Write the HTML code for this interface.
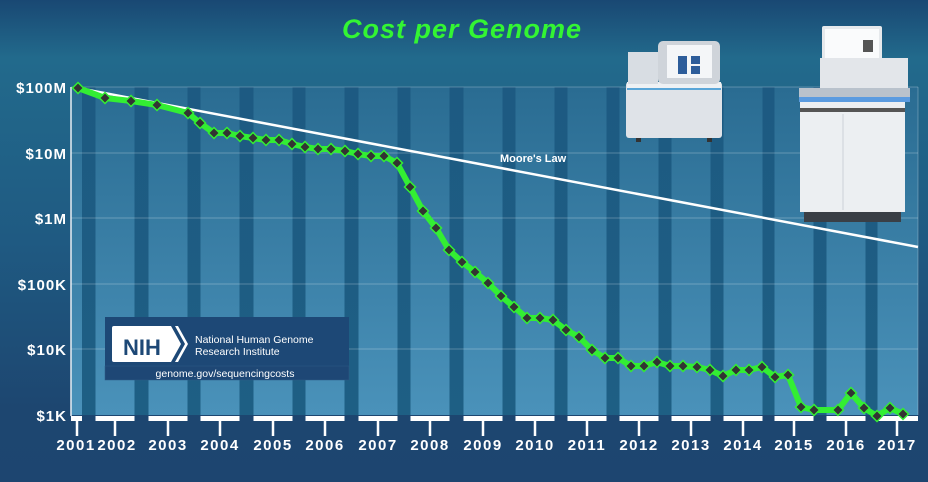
<!DOCTYPE html>
<html><head><meta charset="utf-8"><style>
html,body{margin:0;padding:0;width:928px;height:482px;overflow:hidden;background:#1d4570}
svg{display:block}
text{font-family:"Liberation Sans",sans-serif;font-weight:bold;fill:#fff}
</style></head><body>
<svg width="928" height="482" viewBox="0 0 928 482" xmlns="http://www.w3.org/2000/svg">
<defs>
<linearGradient id="bg" x1="0" y1="0" x2="0" y2="1">
<stop offset="0" stop-color="#194873"/><stop offset="0.12" stop-color="#226a8c"/><stop offset="0.5" stop-color="#1f5a82"/><stop offset="0.85" stop-color="#1d4670"/><stop offset="1" stop-color="#1d4570"/>
</linearGradient>
<linearGradient id="lt" x1="0" y1="0" x2="0" y2="1">
<stop offset="0" stop-color="#2a6c92"/><stop offset="1" stop-color="#4a92ba"/>
</linearGradient>
<linearGradient id="dk" x1="0" y1="0" x2="0" y2="1">
<stop offset="0" stop-color="#1d5a82"/><stop offset="1" stop-color="#1e5f84"/>
</linearGradient>
</defs>
<rect width="928" height="482" fill="url(#bg)"/>
<rect x="71" y="87" width="847" height="328" fill="url(#dk)"/>
<g fill="url(#lt)">
<rect x="71" y="87" width="11" height="328"/>
<rect x="95.5" y="87" width="39" height="328"/><rect x="148.5" y="87" width="39" height="328"/><rect x="200.5" y="87" width="39" height="328"/><rect x="253.5" y="87" width="39" height="328"/><rect x="305.5" y="87" width="39" height="328"/><rect x="358.5" y="87" width="39" height="328"/><rect x="410.5" y="87" width="39" height="328"/><rect x="463.5" y="87" width="39" height="328"/><rect x="515.5" y="87" width="39" height="328"/><rect x="567.5" y="87" width="39" height="328"/><rect x="619.5" y="87" width="39" height="328"/><rect x="671.5" y="87" width="39" height="328"/><rect x="723.5" y="87" width="39" height="328"/><rect x="774.5" y="87" width="39" height="328"/><rect x="826.5" y="87" width="39" height="328"/><rect x="877.5" y="87" width="40.5" height="328"/>
</g>
<g stroke="#ffffff" stroke-opacity="0.25" stroke-width="1">
<line x1="71" y1="87" x2="918" y2="87"/><line x1="71" y1="153" x2="918" y2="153"/><line x1="71" y1="218" x2="918" y2="218"/><line x1="71" y1="284" x2="918" y2="284"/><line x1="71" y1="349" x2="918" y2="349"/>
<line x1="918" y1="87" x2="918" y2="415"/>
</g>
<line x1="71" y1="87" x2="71" y2="416" stroke="#e8eef4" stroke-width="1.5"/>
<g fill="#fff">
<rect x="71" y="416" width="11" height="5"/>
<rect x="95.5" y="416" width="39" height="5"/><rect x="148.5" y="416" width="39" height="5"/><rect x="200.5" y="416" width="39" height="5"/><rect x="253.5" y="416" width="39" height="5"/><rect x="305.5" y="416" width="39" height="5"/><rect x="358.5" y="416" width="39" height="5"/><rect x="410.5" y="416" width="39" height="5"/><rect x="463.5" y="416" width="39" height="5"/><rect x="515.5" y="416" width="39" height="5"/><rect x="567.5" y="416" width="39" height="5"/><rect x="619.5" y="416" width="39" height="5"/><rect x="671.5" y="416" width="39" height="5"/><rect x="723.5" y="416" width="39" height="5"/><rect x="774.5" y="416" width="39" height="5"/><rect x="826.5" y="416" width="39" height="5"/><rect x="877.5" y="416" width="40.5" height="5"/>
</g>
<g stroke="#fff" stroke-width="2.5">
<line x1="77" y1="418" x2="77" y2="436"/><line x1="115" y1="418" x2="115" y2="436"/><line x1="168" y1="418" x2="168" y2="436"/><line x1="220" y1="418" x2="220" y2="436"/><line x1="273" y1="418" x2="273" y2="436"/><line x1="325" y1="418" x2="325" y2="436"/><line x1="378" y1="418" x2="378" y2="436"/><line x1="430" y1="418" x2="430" y2="436"/><line x1="483" y1="418" x2="483" y2="436"/><line x1="535" y1="418" x2="535" y2="436"/><line x1="587" y1="418" x2="587" y2="436"/><line x1="639" y1="418" x2="639" y2="436"/><line x1="691" y1="418" x2="691" y2="436"/><line x1="743" y1="418" x2="743" y2="436"/><line x1="794" y1="418" x2="794" y2="436"/><line x1="846" y1="418" x2="846" y2="436"/><line x1="897" y1="418" x2="897" y2="436"/>
</g>
<g font-size="15" text-anchor="middle" letter-spacing="1.5">
<text x="76" y="450">2001</text><text x="117" y="450">2002</text><text x="168" y="450">2003</text><text x="220" y="450">2004</text><text x="273" y="450">2005</text><text x="325" y="450">2006</text><text x="378" y="450">2007</text><text x="430" y="450">2008</text><text x="483" y="450">2009</text><text x="535" y="450">2010</text><text x="587" y="450">2011</text><text x="639" y="450">2012</text><text x="691" y="450">2013</text><text x="743" y="450">2014</text><text x="794" y="450">2015</text><text x="846" y="450">2016</text><text x="897" y="450">2017</text>
</g>
<g font-size="15" text-anchor="end" letter-spacing="1">
<text x="67" y="93">$100M</text><text x="67" y="159">$10M</text><text x="67" y="224">$1M</text><text x="67" y="290">$100K</text><text x="67" y="355">$10K</text><text x="67" y="421">$1K</text>
</g>
<text x="462" y="38" font-size="27" font-style="italic" text-anchor="middle" letter-spacing="1" style="fill:#33f533">Cost per Genome</text>
<g>
<rect x="626" y="82" width="96" height="56" rx="3" fill="#dfe3e8"/>
<rect x="627" y="82" width="94" height="8" fill="#eef1f4"/>
<rect x="627" y="88" width="94" height="2" fill="#5aa6d8"/>
<rect x="628" y="52" width="30" height="32" fill="#d8dde3"/>
<rect x="658" y="41" width="62" height="43" rx="5" fill="#cfd4da"/>
<rect x="667" y="45" width="45" height="33" fill="#f4f6f8"/>
<rect x="678" y="56" width="9" height="18" fill="#2d5d9a"/><rect x="691" y="56" width="9" height="8" fill="#2d5d9a"/><rect x="691" y="66" width="9" height="8" fill="#2d5d9a"/>
<rect x="636" y="138" width="5" height="4" fill="#333"/><rect x="707" y="138" width="5" height="4" fill="#333"/>
</g>
<g>
<rect x="822" y="26" width="60" height="42" rx="2" fill="#e6e9ec"/>
<rect x="825" y="29" width="54" height="34" fill="#fafbfc"/>
<rect x="863" y="40" width="10" height="12" fill="#555"/>
<rect x="820" y="58" width="88" height="32" fill="#e3e6ea"/>
<rect x="799" y="88" width="111" height="12" fill="#b9c2cc"/>
<rect x="799" y="97" width="111" height="5" fill="#5a9be0"/>
<rect x="800" y="102" width="105" height="110" fill="#eceff2"/>
<rect x="800" y="108" width="105" height="4" fill="#555"/>
<line x1="843" y1="114" x2="843" y2="210" stroke="#cdd2d8"/>
<rect x="804" y="212" width="97" height="10" fill="#3a3f46"/>
</g>
<line x1="78" y1="88" x2="918" y2="247" stroke="#fff" stroke-width="2.5"/>
<text x="500" y="162" font-size="11">Moore's Law</text>
<g>
<rect x="105" y="317" width="244" height="63" fill="#1d4876"/>
<rect x="105" y="366" width="244" height="14" fill="#1e4775" stroke="#2d5a86" stroke-width="0.5"/>
<path d="M114 326 H171 L181 344 L171 362 H114 Q112 362 112 360 V328 Q112 326 114 326 Z" fill="#fff"/>
<path d="M175 326 L185 344 L175 362 L178 362 L188 344 L178 326 Z" fill="#fff"/>
<text x="142" y="355" font-size="22" text-anchor="middle" style="fill:#1d4876">NIH</text>
<text x="195" y="343" font-size="10.5" style="font-weight:normal">National Human Genome</text>
<text x="195" y="355" font-size="10.5" style="font-weight:normal">Research Institute</text>
<text x="225" y="377" font-size="10.5" text-anchor="middle" style="font-weight:normal">genome.gov/sequencingcosts</text>
</g>
<polyline fill="none" stroke="#33ee33" stroke-width="6" stroke-linejoin="round" points="78,88 105,98 131,101 157,105 188,113 200,123 214,133 227,133 240,136 253,138 266,140 279,140 292,144 305,147 318,149 331,149 345,151 358,154 371,156 384,156 397,163 410,187 423,211 436,228 449,250 462,262 475,272 488,283 501,296 514,307 527,318 540,318 553,320 566,330 579,337 592,350 605,358 618,358 631,366 644,366 657,362 670,366 683,366 697,367 710,370 723,376 736,370 749,370 762,367 775,377 788,375 801,407 814,410 838,410 851,393 864,408 877,416 890,408 903,414"/>
<g fill="#333" stroke="#33ee33" stroke-width="1.5" id="pts"></g>
</svg>
<script>
var p="78,88 105,98 131,101 157,105 188,113 200,123 214,133 227,133 240,136 253,138 266,140 279,140 292,144 305,147 318,149 331,149 345,151 358,154 371,156 384,156 397,163 410,187 423,211 436,228 449,250 462,262 475,272 488,283 501,296 514,307 527,318 540,318 553,320 566,330 579,337 592,350 605,358 618,358 631,366 644,366 657,362 670,366 683,366 697,367 710,370 723,376 736,370 749,370 762,367 775,377 788,375 801,407 814,410 838,410 851,393 864,408 877,416 890,408 903,414".split(" ");
var g=document.getElementById("pts"),s="";
p.forEach(function(q){var a=q.split(","),x=+a[0],y=+a[1];s+='<polygon points="'+x+','+(y-5.5)+' '+(x+5.5)+','+y+' '+x+','+(y+5.5)+' '+(x-5.5)+','+y+'"/>';});
g.innerHTML=s;
</script>
</body></html>
